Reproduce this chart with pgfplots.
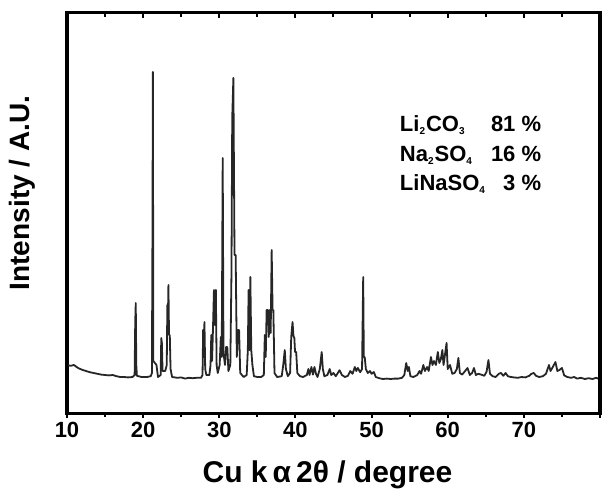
\documentclass[border=0pt]{standalone}
\usepackage{pgfplots}
\pgfplotsset{compat=1.18}
\usepackage{fontspec}
\setmainfont{Liberation Sans}
\begin{document}
\begin{tikzpicture}
\begin{axis}[name=ax, scale only axis, width=266.5pt, height=200pt,
  xmin=10, xmax=80, ymin=0, ymax=100,
  xtick={10,20,30,40,50,60,70,80}, xticklabels={10,20,30,40,50,60,70,{}},
  minor x tick num=1,
  ytick=\empty,
  xtick pos=left, tick align=outside,
  major tick length=2.5pt, minor tick length=2pt,
  every tick/.style={black, line width=1pt},
  axis line style={line width=1.5pt},
  xticklabel style={font=\fontsize{11}{12}\selectfont\bfseries, anchor=center, yshift=-6pt},
  /pgf/number format/assume math mode=true,
  clip=false]
\addplot[line width=0.9pt, color=black!85, line join=round] coordinates {
(10.0,12.0) (10.5,11.8) (10.9,12.0) (11.5,11.2) (12.0,10.8) (12.5,10.5) (13.0,10.2) (13.5,10.0)
(14.0,9.8) (14.5,9.6) (15.0,9.5) (15.5,9.4) (16.0,9.5) (16.5,9.2) (17.0,9.0) (17.5,9.0) (18.0,8.9)
(18.6,9.0) (18.88,9.5) (18.96,22.75) (19.03,27.5) (19.1,12) (19.18,9.3) (19.8,9.0) (20.5,9.0)
(21.0,9.2) (21.15,10) (21.22,43.25) (21.28,85.25) (21.34,13.0) (21.55,12.5) (21.75,12.0) (21.95,9.0)
(22.3,9.5) (22.38,18.75) (22.46,17.5) (22.55,10.5) (22.9,10.5) (23.1,12) (23.18,27) (23.24,22)
(23.32,32) (23.4,19.5) (23.5,19.5) (23.6,11) (23.8,9.0) (24.5,8.8) (25.0,8.9) (25.5,8.6) (26.0,8.8)
(26.5,8.7) (27.0,8.8) (27.6,8.8) (27.8,9.5) (27.88,20.75) (27.95,14) (28.05,22.75) (28.15,11)
(28.3,9.5) (28.7,9.5) (28.85,12) (28.95,19.5) (29.05,13) (29.15,19.5) (29.3,30.75) (29.42,22)
(29.55,30.75) (29.65,12) (29.8,10) (30.05,12) (30.2,19) (30.32,14) (30.45,63.75) (30.55,15)
(30.75,12) (30.9,16.5) (31.05,16.5) (31.2,10.5) (31.45,12) (31.6,35) (31.7,73.75) (31.85,83.75)
(32.0,39.5) (32.15,39.5) (32.3,14) (32.45,20.75) (32.6,20.75) (32.75,10) (33.2,9.0) (33.6,9.5)
(33.75,15.75) (33.85,30.75) (33.95,15.75) (34.08,34) (34.2,15.75) (34.35,12) (34.55,9.2) (35.0,9.0)
(35.5,9.0) (35.85,9.5) (35.98,19.5) (36.1,14) (36.22,25.75) (36.4,25.75) (36.5,19) (36.62,25.75)
(36.75,20) (36.88,40.75) (37.0,25.75) (37.1,25.75) (37.25,10) (37.6,9.0) (38.2,9.2) (38.4,12)
(38.6,15.75) (38.75,11) (39.0,9.2) (39.3,10) (39.45,19) (39.62,22.75) (39.75,19) (39.85,19)
(39.95,15.25) (40.1,15.25) (40.25,10) (40.6,9.2) (41.0,9.0) (41.5,9.5) (41.7,11) (41.85,9.5)
(42.1,11.5) (42.3,9.6) (42.5,11.5) (42.7,9.8) (42.9,9.0) (43.2,11) (43.45,15.25) (43.6,11)
(43.8,9.2) (44.2,9.5) (44.5,11) (44.7,9.5) (45.0,10) (45.3,9.2) (45.8,10.7) (46.1,9.5) (46.5,9.0)
(46.9,9.3) (47.2,10.5) (47.5,9.8) (47.8,11.5) (48.0,10.5) (48.2,11.25) (48.5,10.2) (48.75,11)
(48.9,34) (48.98,14) (49.1,14) (49.25,11) (49.5,10) (49.8,10.5) (50.0,9.8) (50.3,10.25) (50.55,9.0)
(51.0,8.7) (51.5,8.5) (52.0,8.6) (52.5,8.5) (53.0,8.6) (53.5,8.6) (54.0,8.8) (54.3,9.5) (54.55,12.5)
(54.75,10.5) (54.9,11.5) (55.1,9.2) (55.5,9.0) (56.0,9.5) (56.3,10.5) (56.5,9.8) (56.8,12) (57.0,10.5)
(57.3,11.5) (57.5,10.5) (57.8,14) (58.0,12) (58.2,13) (58.45,12) (58.7,15.25) (58.9,12.5) (59.1,13.5)
(59.3,15.75) (59.45,12) (59.6,14) (59.85,17.5) (60.0,11) (60.3,12) (60.6,9.8) (60.9,10) (61.2,11)
(61.4,13.75) (61.6,10) (61.9,9.6) (62.2,10.3) (62.6,11.25) (62.9,9.5) (63.2,10) (63.45,11.25)
(63.7,9.5) (64.0,9.8) (64.4,9.6) (64.8,9.3) (65.1,10.3) (65.35,13.25) (65.55,9.8) (65.9,9.2)
(66.3,9.0) (66.7,9.8) (67.0,10) (67.3,9.3) (67.6,10) (67.9,9.2) (68.3,9.0) (68.7,8.9) (69.2,8.8)
(69.7,9.0) (70.2,8.9) (70.7,9.3) (71.0,9.8) (71.3,10) (71.6,9.3) (72.0,9.0) (72.5,9.2) (72.9,9.8)
(73.3,12) (73.5,10.5) (73.8,11.5) (74.15,12.75) (74.4,10.5) (74.7,10.8) (75.0,11.25) (75.3,9.4)
(75.7,9.0) (76.2,8.8) (76.6,9.0) (77.0,8.6) (77.5,8.8) (78.0,8.5) (78.5,8.7) (79.0,8.5) (79.5,8.8)
(80.0,8.4)
};
\begin{scope}[font=\fontsize{11}{13}\selectfont\bfseries]
\node[anchor=base west] at (axis cs:52.8,70.4) {Li\textsubscript{\tiny 2}CO\textsubscript{\tiny 3}};
\node[anchor=base west] at (axis cs:52.8,62.9) {Na\textsubscript{\tiny 2}SO\textsubscript{\tiny 4}};
\node[anchor=base west] at (axis cs:52.8,55.6) {LiNaSO\textsubscript{\tiny 4}};
\node[anchor=base east] at (axis cs:73.2,70.4) {81 \%};
\node[anchor=base east] at (axis cs:73.2,62.9) {16 \%};
\node[anchor=base east] at (axis cs:73.2,55.6) {3 \%};
\end{scope}
\end{axis}
\begin{axis}[scale only axis, width=266.5pt, height=200pt,
  xmin=10, xmax=80, ymin=0, ymax=100,
  xtick={10,20,30,40,50,60,70,80}, xticklabels={},
  minor x tick num=1, ytick=\empty,
  xtick pos=right, tick align=inside,
  major tick length=2.5pt, minor tick length=2pt,
  every tick/.style={black, line width=1pt},
  axis line style={line width=1.5pt}]
\end{axis}
\node[font=\fontsize{14}{16}\selectfont\bfseries, rotate=90, anchor=center] at ([xshift=-22.5pt,yshift=10pt]ax.west) {Intensity / A.U.};
\node[font=\fontsize{15}{17}\selectfont\bfseries, anchor=center] at ([xshift=-3pt,yshift=-31pt]ax.south) {Cu k\,α\,2θ / degree};
\pgfresetboundingbox
\path[use as bounding box] ([xshift=-33.5pt,yshift=-40.5pt]ax.south west) rectangle ([xshift=4.5pt,yshift=6.5pt]ax.north east);
\end{tikzpicture}
\end{document}
